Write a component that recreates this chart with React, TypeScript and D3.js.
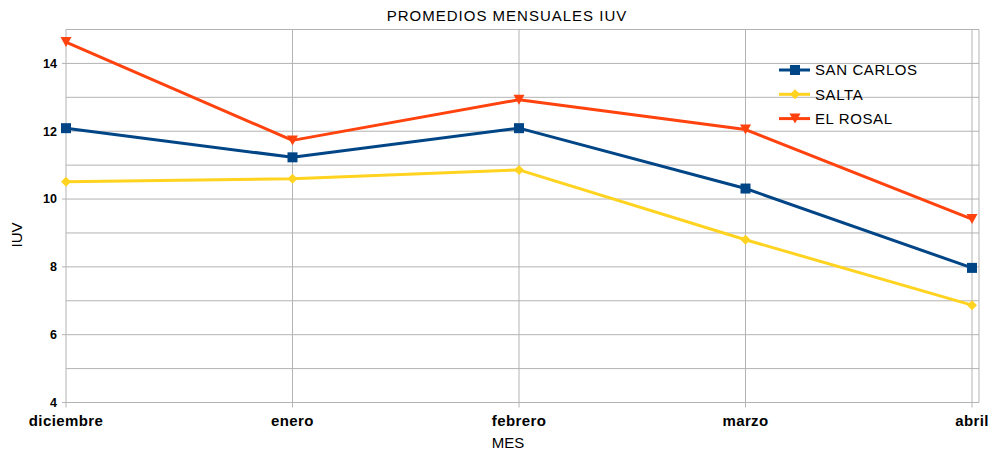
import React from 'react';
import * as d3 from 'd3';

const months = ['diciembre', 'enero', 'febrero', 'marzo', 'abril'];
const sanCarlos = [12.09, 11.23, 12.09, 10.31, 7.97];
const salta = [10.51, 10.6, 10.86, 8.8, 6.87];
const elRosal = [14.63, 11.73, 12.93, 12.05, 9.41];
const yTicks = [4, 6, 8, 10, 12, 14];
const yGrid = [5, 6, 7, 8, 9, 10, 11, 12, 13, 14, 15];

const series = [
	{ name: 'SAN CARLOS', values: sanCarlos, color: '#004586', marker: 'square' },
	{ name: 'SALTA', values: salta, color: '#ffd320', marker: 'diamond' },
	{ name: 'EL ROSAL', values: elRosal, color: '#ff420e', marker: 'triangle' },
];

const font = "'Liberation Sans', Arial, sans-serif";

const Marker = ({ type, x, y, color }) => {
	if (type === 'square') {
		return <rect x={x - 5} y={y - 5} width={10} height={10} fill={color} />;
	}
	if (type === 'diamond') {
		return <path d={`M${x},${y - 5}L${x + 5},${y}L${x},${y + 5}L${x - 5},${y}Z`} fill={color} />;
	}
	return <path d={`M${x - 5.5},${y - 5}L${x + 5.5},${y - 5}L${x},${y + 5}Z`} fill={color} />;
};

export default function App() {
	const left = 66,
		right = 979,
		top = 29.5,
		bottom = 402.5;

	const xScale = d3.scalePoint().domain(months).range([66, 972]);
	const yScale = d3.scaleLinear().domain([4, 15]).range([bottom, top]);

	const line = d3
		.line<number>()
		.x((d, i) => xScale(months[i]))
		.y((d) => yScale(d));

	return (
		<svg width={991} height={450} style={{ position: 'absolute', left: 0, top: 0 }} fontFamily={font}>
			<rect width={991} height={450} fill='#fff' />
			{/* title */}
			<text x={507} y={21} textAnchor='middle' fontSize={15} letterSpacing={1} fill='#000'>
				PROMEDIOS MENSUALES IUV
			</text>

			{/* grid */}
			<g stroke='#b3b3b3' strokeWidth={1}>
				{yGrid.map((v) => (
					<line key={'h' + v} x1={left} x2={right} y1={yScale(v)} y2={yScale(v)} />
				))}
				{months.map((m) => (
					<line key={'v' + m} x1={xScale(m)} x2={xScale(m)} y1={top} y2={bottom + 5} />
				))}
				<line x1={right} x2={right} y1={top} y2={bottom} />
				<line x1={left} x2={right} y1={bottom} y2={bottom} />
				{yTicks.map((v) => (
					<line key={'t' + v} x1={left - 4} x2={left} y1={yScale(v)} y2={yScale(v)} />
				))}
			</g>

			{/* y tick labels */}
			{yTicks.map((v) => (
				<text
					key={'yl' + v}
					x={57}
					y={yScale(v)}
					dy='0.35em'
					textAnchor='end'
					fontSize={12.5}
					fontWeight='bold'
					fill='#000'
				>
					{v}
				</text>
			))}

			{/* x tick labels */}
			{months.map((m) => (
				<text
					key={'xl' + m}
					x={xScale(m)}
					y={425.5}
					textAnchor='middle'
					fontSize={15}
					fontWeight='bold'
					letterSpacing={0.4}
					fill='#000'
				>
					{m}
				</text>
			))}

			{/* axis titles */}
			<text x={508} y={448} textAnchor='middle' fontSize={15} fill='#000'>
				MES
			</text>
			<text
				transform={`translate(22, 235) rotate(-90)`}
				textAnchor='middle'
				fontSize={15}
				fill='#000'
			>
				IUV
			</text>

			{/* series */}
			{series.map((s) => (
				<g key={s.name}>
					<path d={line(s.values)} fill='none' stroke={s.color} strokeWidth={3} strokeLinejoin='round' />
					{s.values.map((v, i) => (
						<Marker key={i} type={s.marker} x={xScale(months[i])} y={yScale(v)} color={s.color} />
					))}
				</g>
			))}

			{/* legend */}
			{series.map((s, i) => {
				const ly = 70 + i * 24.3;
				return (
					<g key={'lg' + s.name}>
						<line x1={779} x2={810} y1={ly} y2={ly} stroke={s.color} strokeWidth={3} />
						<Marker type={s.marker} x={795} y={ly} color={s.color} />
						<text x={815} y={ly} dy='0.36em' fontSize={15} letterSpacing={0.6} fill='#000'>
							{s.name}
						</text>
					</g>
				);
			})}
		</svg>
	);
}
